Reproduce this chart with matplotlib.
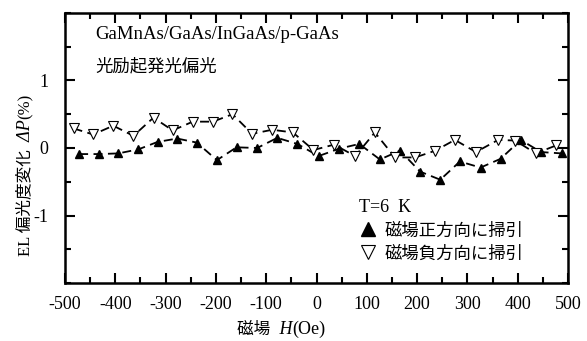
import matplotlib
matplotlib.use('Agg')
import matplotlib.pyplot as plt
from matplotlib.lines import Line2D
from matplotlib.ticker import MultipleLocator

plt.rcParams['font.family'] = ['Liberation Serif', 'Noto Sans CJK JP']
plt.rcParams['axes.unicode_minus'] = False

# 磁場正方向に掃引 (filled up triangles)
h_pos = [-472, -432, -394, -354, -316, -277, -238, -198, -159, -118, -78, -38, 4,
         45, 85, 126, 166, 206, 246, 285, 326, 366, 406, 446, 487]
p_pos = [-0.09, -0.09, -0.08, -0.02, 0.09, 0.14, 0.08, -0.18, 0.01, 0.00, 0.15, 0.06, -0.12,
         -0.01, 0.06, -0.17, -0.04, -0.35, -0.47, -0.20, -0.29, -0.16, 0.12, -0.06, -0.08]

# 磁場負方向に掃引 (open down triangles)
h_neg = [-483, -444, -404, -364, -324, -286, -246, -206, -167, -128, -88, -47, -6,
         35, 77, 116, 156, 196, 236, 275, 317, 361, 395, 436, 477]
p_neg = [0.29, 0.20, 0.33, 0.18, 0.45, 0.26, 0.39, 0.39, 0.50, 0.21, 0.27, 0.23, -0.03,
         0.05, -0.12, 0.23, -0.14, -0.14, -0.04, 0.12, -0.06, 0.12, 0.11, -0.08, 0.04]

fig = plt.figure(figsize=(5.87, 3.41), dpi=100)
ax = fig.add_axes([0.1107, 0.170, 0.857, 0.792])

ax.plot(h_pos, p_pos, color='black', lw=1.3, ls=(0, (5, 3)),
        marker='^', ms=6, mfc='black', mec='black')
ax.plot(h_neg, p_neg, color='black', lw=1.3, ls=(0, (5, 3)),
        marker='v', ms=6.5, mfc='white', mec='black', mew=0.8)

ax.set_xlim(-500, 500)
ax.set_ylim(-2, 2)
ax.xaxis.set_major_locator(MultipleLocator(100))
ax.xaxis.set_minor_locator(MultipleLocator(50))
ax.set_yticks([-1, 0, 1])
ax.set_yticklabels(['-1', '0', '1'])
ax.yaxis.set_minor_locator(MultipleLocator(0.5))
ax.tick_params(which='both', direction='in', top=True, right=True, width=1.5, labelsize=13)
ax.tick_params(which='major', length=7)
ax.tick_params(which='minor', length=4)
ax.tick_params(axis='x', pad=9)
ax.tick_params(axis='y', pad=12)
for s in ax.spines.values():
    s.set_linewidth(1.8)

# x label: 磁場  H(Oe)
t1 = fig.text(0.468, 0.02, '磁場 ', fontsize=12, ha='right', va='baseline')
t2 = ax.annotate(' H', xy=(1, 0), xycoords=t1, fontsize=13, style='italic',
                 ha='left', va='bottom')
ax.annotate('(Oe)', xy=(1, 0), xycoords=t2, fontsize=13, ha='left', va='bottom')

# y label: EL 偏光度変化  ΔP(%)
y1 = fig.text(0.043, 0.25, 'EL 偏光度変化 ', fontsize=12, rotation=90,
              ha='left', va='center', rotation_mode='anchor')
y2 = ax.annotate(' ΔP', xy=(0.5, 1), xycoords=y1, fontsize=13, style='italic',
                 rotation=90, ha='left', va='center', rotation_mode='anchor')
ax.annotate('(%)', xy=(0.5, 1), xycoords=y2, fontsize=12, rotation=90,
            ha='left', va='center', rotation_mode='anchor')

ax.text(0.06, 0.92, 'GaMnAs/GaAs/InGaAs/p-GaAs', transform=ax.transAxes,
        fontsize=13.5, va='center', ha='left')
ax.text(0.06, 0.80, '光励起発光偏光', transform=ax.transAxes,
        fontsize=12.5, va='center', ha='left')

handles = [Line2D([], [], ls='none', marker='^', ms=10, mfc='black', mec='black'),
           Line2D([], [], ls='none', marker='v', ms=10, mfc='white', mec='black', mew=0.8)]
leg = ax.legend(handles, ['磁場正方向に掃引', '磁場負方向に掃引'], title='T=6  K',
                loc='upper left', bbox_to_anchor=(0.56, 0.355), frameon=False,
                fontsize=12.5, title_fontsize=13, handlelength=1.0, handletextpad=0.5,
                labelspacing=0.4, borderpad=0.2)
leg._legend_box.align = 'left'

fig.savefig('out.png', dpi=100)
